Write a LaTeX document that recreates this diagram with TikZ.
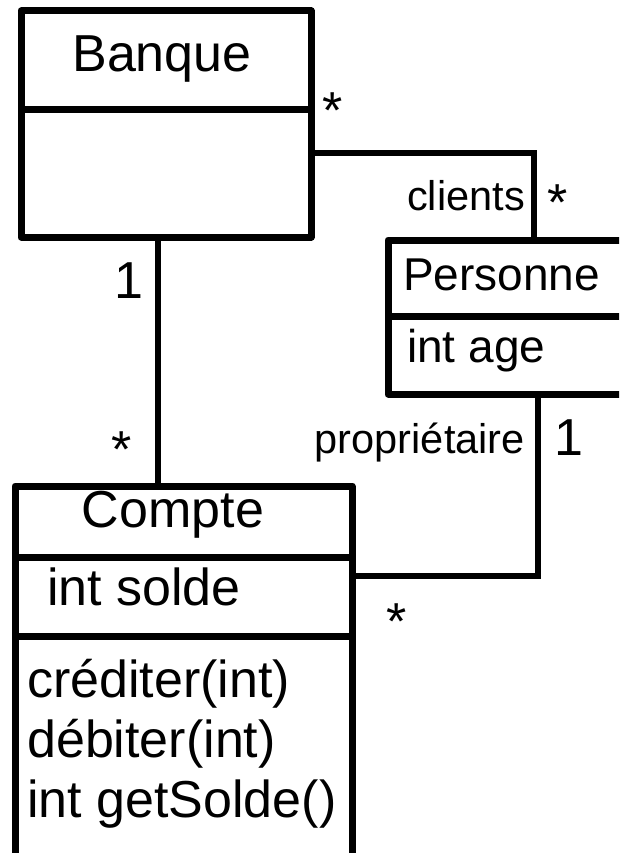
\documentclass[tikz,border=0pt]{standalone}
\usepackage{fontspec}
\setmainfont{Liberation Sans}
\begin{document}
\begin{tikzpicture}[x=1pt,y=-1pt,
  umlbox/.style={draw=black,line width=7pt,line join=round,inner sep=0pt,outer sep=0pt,fill=white},
  divline/.style={draw=black,line width=7pt},
  assoc/.style={draw=black,line width=6pt,line join=miter},
  big/.style={inner sep=0pt,font=\fontsize{52}{60}\selectfont},
  mid/.style={inner sep=0pt,font=\fontsize{46}{54}\selectfont},
  small/.style={inner sep=0pt,font=\fontsize{41.5}{48}\selectfont}]
\fill[white] (0,0) rectangle (619,853);
\useasboundingbox (0,0) rectangle (619,853);
\clip (0,0) rectangle (619,853);

% class boxes
\node[umlbox,minimum width=290pt,minimum height=226pt] (banque) at (166,124) {};
\node[umlbox,minimum width=312pt,minimum height=154pt] (personne) at (544,317) {};
\node[umlbox,minimum width=337pt,minimum height=414pt] (compte) at (183.5,693) {};

% compartments
\draw[divline] (banque.west |- 0,110) -- (banque.east |- 0,110);
\draw[divline] (personne.west |- 0,316) -- (personne.east |- 0,316);
\draw[divline] (compte.west |- 0,557) -- (compte.east |- 0,557);
\draw[divline] (compte.west |- 0,636) -- (compte.east |- 0,636);

% class texts
\node[big,anchor=base] (tbanque) at (162,72) {Banque};
\node[mid,anchor=base west] (tpersonne) at (403,290) {Personne};
\node[mid,anchor=base west] (tage) at (407,362) {int age};
\node[big,anchor=base] (tcompte) at (173,527) {Compte};
\node[big,anchor=base west] (tsolde) at (47,605) {int solde};
\node[big,anchor=base west] (tcred) at (27,697) {créditer(int)};
\node[big,anchor=base west] (tdeb) at (27,757) {débiter(int)};
\node[big,anchor=base west] (tget) at (27,817) {int getSolde()};

% connectors
\coordinate (k1) at (534,153);
\coordinate (k2) at (158,0);
\coordinate (k3) at (538,576);
\draw[assoc] (banque.east |- k1) -- (k1) -- (k1 |- personne.north);
\draw[assoc] (banque.south -| k2) -- (compte.north -| k2);
\draw[assoc] (personne.south -| k3) -- (k3) -- (compte.east |- k3);

% multiplicities and roles
\node[big,anchor=base] (m1) at (333,129) {*};
\node[small,anchor=base east] (rclients) at (525,210) {clients};
\node[big,anchor=base] (m2) at (558,220) {*};
\node[big,anchor=base] (m3) at (129,298) {1};
\node[big,anchor=base] (m4) at (122,467) {*};
\node[small,anchor=base east] (rprop) at (525,453) {propriétaire};
\node[big,anchor=base] (m5) at (569,455) {1};
\node[big,anchor=base] (m6) at (397,639) {*};
\end{tikzpicture}
\end{document}
